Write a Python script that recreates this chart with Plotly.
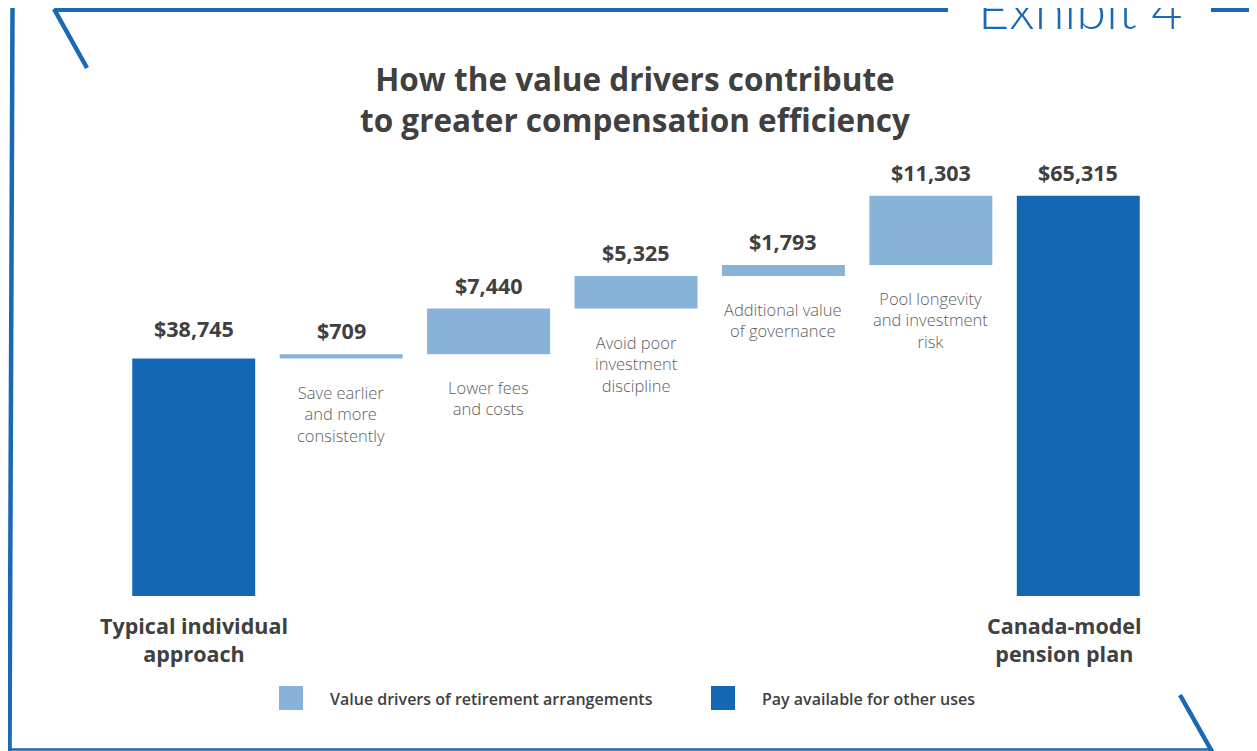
import plotly.graph_objects as go

# ---- data ----
categories = ["Typical individual approach", "Save earlier and more consistently",
              "Lower fees and costs", "Avoid poor investment discipline",
              "Additional value of governance", "Pool longevity and investment risk",
              "Canada-model pension plan"]
values = [38745, 709, 7440, 5325, 1793, 11303, 65315]
measures = ["absolute", "relative", "relative", "relative", "relative", "relative", "total"]
value_labels = ["$38,745", "$709", "$7,440", "$5,325", "$1,793", "$11,303", "$65,315"]
bar_descriptions = ["", "Save earlier<br>and more<br>consistently", "Lower fees<br>and costs",
                    "Avoid poor<br>investment<br>discipline", "Additional value<br>of governance",
                    "Pool longevity<br>and investment<br>risk", ""]
total_names = ["Typical individual<br>approach", "", "", "", "", "", "Canada-model<br>pension plan"]
legend_labels = ["Value drivers of retirement arrangements", "Pay available for other uses"]

DARK = "#1467b3"
LIGHT = "#88b2d8"
TXT = "#404040"
FRAME = "#1a69b5"
FONT = "Open Sans"

OFF = 8  # page body margin
PAGE_W, PAGE_H = 1257, 751
W, H = PAGE_W - OFF, PAGE_H - OFF
ML, MR, MT, MB = 120 - OFF, 105, 167 - OFF, 155
PW = W - ML - MR
PH = H - MT - MB


def px(x):  # page pixel -> paper
    return (x - OFF - ML) / PW


def py(y):
    return (H - MB - (y - OFF)) / PH


x_idx = list(range(len(categories)))

fig = go.Figure(go.Waterfall(
    x=x_idx, y=values, measure=measures,
    increasing=dict(marker=dict(color=LIGHT)),
    totals=dict(marker=dict(color=DARK)),
    decreasing=dict(marker=dict(color=LIGHT)),
    connector=dict(visible=False),
    showlegend=False, hoverinfo="skip",
))

tops, bottoms = [], []
run = 0
for v, m in zip(values, measures):
    if m == "absolute":
        run = v
        bottoms.append(0); tops.append(v)
    elif m == "total":
        bottoms.append(0); tops.append(run)
    else:
        bottoms.append(run); run += v; tops.append(run)

ann = []
for i in x_idx:
    ann.append(dict(x=i, y=tops[i], xref="x", yref="y", text=value_labels[i], showarrow=False,
                    xanchor="center", yanchor="bottom",
                    yshift=7 if measures[i] != "absolute" else 14,
                    font=dict(family=FONT, size=21.5, color=TXT, weight="bold")))
    if bar_descriptions[i]:
        ann.append(dict(x=i, y=bottoms[i], xref="x", yref="y", text=bar_descriptions[i],
                        showarrow=False, xanchor="center", yanchor="top", yshift=-20,
                        font=dict(family=FONT, size=16.5, color="#606060", weight=300)))
    if total_names[i]:
        ann.append(dict(x=i, y=0, xref="x", yref="y", text=total_names[i], showarrow=False,
                        xanchor="center", yanchor="top", yshift=-13,
                        xshift=-14 if i == 6 else 0,
                        font=dict(family=FONT, size=21.5, color=TXT, weight="bold")))

ann.append(dict(x=px(635), y=py(99), xref="paper", yref="paper",
                text="How the value drivers contribute<br>to greater compensation efficiency",
                showarrow=False, xanchor="center", yanchor="middle",
                font=dict(family=FONT, size=31.5, color=TXT, weight="bold")))
ann.append(dict(x=px(1080), y=py(8), xref="paper", yref="paper", text="Exhibit 4",
                showarrow=False, xanchor="center", yanchor="middle",
                font=dict(family="Lato", size=54, color=FRAME, weight=300)))

shapes = []
leg = [(279, LIGHT, legend_labels[0], 328), (711, DARK, legend_labels[1], 760)]
for x0, col, lab, tx in leg:
    shapes.append(dict(type="rect", xref="paper", yref="paper", x0=px(x0), x1=px(x0 + 24),
                       y0=py(710), y1=py(686), fillcolor=col, line=dict(width=0)))
    ann.append(dict(x=px(tx), y=py(699), xref="paper", yref="paper", text=lab, showarrow=False,
                    xanchor="left", yanchor="middle",
                    font=dict(family=FONT, size=16, color=TXT, weight=600)))


def line(x0, y0, x1, y1, w, op=1.0):
    shapes.append(dict(type="line", xref="paper", yref="paper", x0=px(x0), y0=py(y0),
                       x1=px(x1), y1=py(y1), opacity=op,
                       line=dict(color=FRAME, width=w)))


line(12.5, 7, 9.5, 760, 4.5)
line(54, 9.5, 948, 9.5, 5)
line(54, 9, 87, 68, 4.5)
line(1211, 9.5, 1265, 9.5, 5)
line(9, 749.5, 1213, 749.5, 2.5)
line(1180, 695, 1214, 755, 4.5)
n = 24
y_start, y_end = 187, 717
for k in range(n):
    a = y_start + (y_end - y_start) * k / n
    b = y_start + (y_end - y_start) * (k + 1) / n
    line(1256, a, 1256, b, 2.5, op=(k + 1) / n)

fig.update_layout(
    width=W, height=H, margin=dict(l=ML, r=MR, t=MT, b=MB),
    paper_bgcolor="white", plot_bgcolor="white",
    waterfallgap=0.166,
    xaxis=dict(range=[-0.5, 6.5], visible=False),
    yaxis=dict(range=[0, 70000], visible=False),
    annotations=ann, shapes=shapes, showlegend=False,
)

fig.write_html("out.html")
